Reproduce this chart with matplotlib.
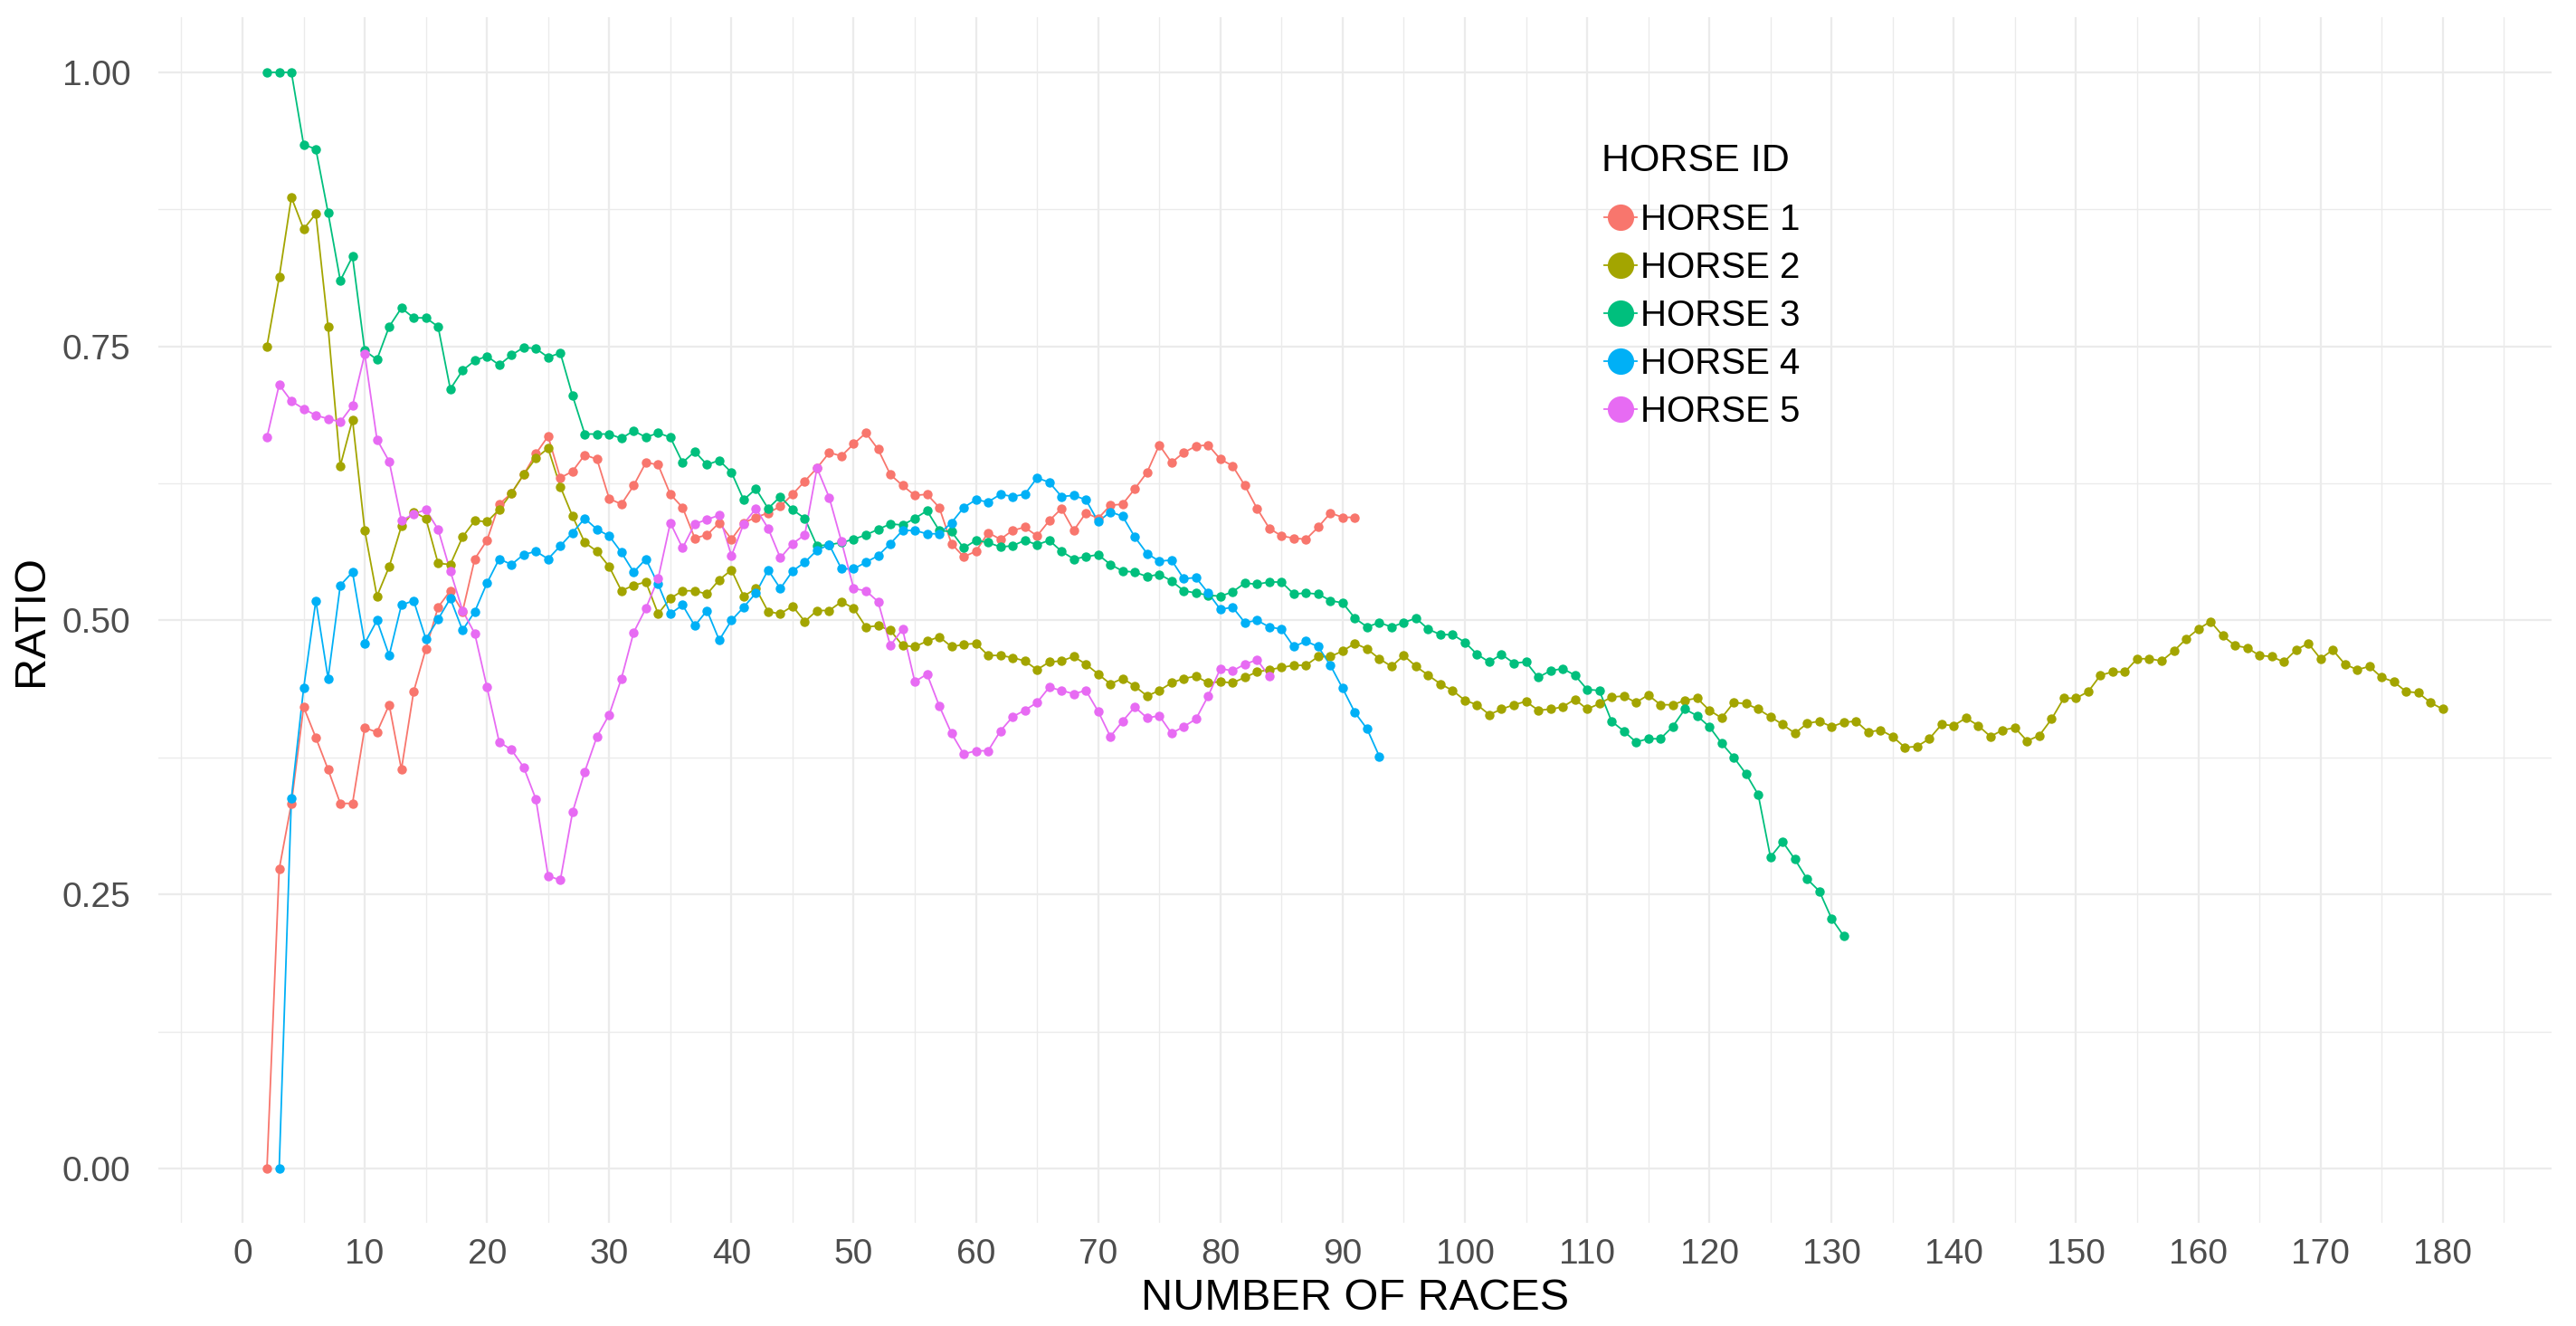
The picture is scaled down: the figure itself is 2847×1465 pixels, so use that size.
import numpy as np
import matplotlib
matplotlib.use("Agg")
import matplotlib.pyplot as plt
from matplotlib.lines import Line2D
from matplotlib.ticker import MultipleLocator

plt.rcParams['font.family'] = ['Liberation Sans', 'DejaVu Sans']

#--- values (ratio per number of races)
horse_names = ['HORSE 1', 'HORSE 2', 'HORSE 3', 'HORSE 4', 'HORSE 5']
horse_colors = ['#F8766D', '#A3A500', '#00BF7D', '#00B0F6', '#E76BF3']
first_race = [2, 2, 2, 3, 2]

horse1 = [0.0, 0.273, 0.333, 0.421, 0.393, 0.364, 0.333, 0.333, 0.402, 0.398,
          0.423, 0.364, 0.435, 0.474, 0.512, 0.527, 0.508, 0.556, 0.573, 0.606,
          0.616, 0.633, 0.652, 0.668, 0.630, 0.636, 0.651, 0.647, 0.611, 0.606,
          0.623, 0.644, 0.642, 0.615, 0.603, 0.575, 0.578, 0.589, 0.574, 0.589,
          0.594, 0.598, 0.604, 0.615, 0.627, 0.639, 0.653, 0.650, 0.661, 0.671,
          0.656, 0.633, 0.623, 0.614, 0.615, 0.603, 0.570, 0.558, 0.563, 0.580,
          0.574, 0.582, 0.585, 0.577, 0.591, 0.602, 0.582, 0.598, 0.593, 0.605,
          0.606, 0.620, 0.635, 0.660, 0.644, 0.653, 0.659, 0.660, 0.647, 0.641,
          0.623, 0.602, 0.584, 0.577, 0.575, 0.574, 0.585, 0.598, 0.594, 0.594]

horse2 = [0.750, 0.813, 0.886, 0.857, 0.871, 0.768, 0.641, 0.683, 0.582, 0.522,
          0.549, 0.586, 0.599, 0.593, 0.552, 0.551, 0.576, 0.591, 0.590, 0.601,
          0.616, 0.633, 0.648, 0.657, 0.622, 0.595, 0.571, 0.563, 0.549, 0.527,
          0.532, 0.535, 0.506, 0.520, 0.527, 0.527, 0.524, 0.537, 0.546, 0.522,
          0.529, 0.508, 0.506, 0.513, 0.499, 0.509, 0.509, 0.517, 0.511, 0.494,
          0.495, 0.491, 0.477, 0.476, 0.481, 0.485, 0.476, 0.478, 0.479, 0.468,
          0.468, 0.466, 0.463, 0.455, 0.462, 0.463, 0.467, 0.460, 0.451, 0.442,
          0.447, 0.440, 0.431, 0.436, 0.443, 0.447, 0.449, 0.443, 0.444, 0.443,
          0.448, 0.453, 0.455, 0.457, 0.459, 0.459, 0.467, 0.467, 0.472, 0.479,
          0.474, 0.465, 0.458, 0.468, 0.458, 0.450, 0.442, 0.436, 0.427, 0.423,
          0.414, 0.419, 0.423, 0.426, 0.418, 0.419, 0.421, 0.428, 0.419, 0.424,
          0.430, 0.431, 0.425, 0.432, 0.423, 0.423, 0.427, 0.429, 0.418, 0.411,
          0.425, 0.424, 0.419, 0.412, 0.405, 0.397, 0.406, 0.408, 0.403, 0.407,
          0.408, 0.398, 0.400, 0.394, 0.384, 0.385, 0.392, 0.405, 0.404, 0.411,
          0.404, 0.394, 0.400, 0.402, 0.390, 0.395, 0.410, 0.429, 0.429, 0.435,
          0.450, 0.453, 0.453, 0.465, 0.465, 0.463, 0.472, 0.483, 0.492, 0.499,
          0.486, 0.477, 0.475, 0.468, 0.467, 0.462, 0.473, 0.479, 0.465, 0.473,
          0.460, 0.455, 0.458, 0.448, 0.444, 0.435, 0.434, 0.425, 0.419]

horse3 = [1.0, 1.0, 1.0, 0.934, 0.930, 0.872, 0.810, 0.832, 0.746, 0.738,
          0.768, 0.785, 0.776, 0.776, 0.768, 0.711, 0.728, 0.737, 0.741, 0.733,
          0.742, 0.749, 0.748, 0.740, 0.744, 0.705, 0.670, 0.670, 0.670, 0.666,
          0.673, 0.667, 0.671, 0.667, 0.644, 0.654, 0.642, 0.646, 0.635, 0.610,
          0.620, 0.602, 0.613, 0.601, 0.593, 0.568, 0.569, 0.571, 0.574, 0.578,
          0.583, 0.588, 0.587, 0.593, 0.600, 0.582, 0.581, 0.566, 0.573, 0.571,
          0.567, 0.568, 0.573, 0.569, 0.573, 0.563, 0.556, 0.558, 0.560, 0.551,
          0.545, 0.544, 0.540, 0.542, 0.536, 0.527, 0.525, 0.523, 0.522, 0.526,
          0.534, 0.533, 0.535, 0.535, 0.524, 0.525, 0.524, 0.518, 0.516, 0.502,
          0.494, 0.498, 0.494, 0.498, 0.502, 0.492, 0.487, 0.487, 0.480, 0.469,
          0.462, 0.469, 0.461, 0.462, 0.448, 0.454, 0.456, 0.450, 0.437, 0.436,
          0.408, 0.399, 0.389, 0.392, 0.392, 0.403, 0.419, 0.413, 0.403, 0.388,
          0.375, 0.360, 0.341, 0.284, 0.298, 0.282, 0.264, 0.253, 0.228, 0.212]

horse4 = [0.0, 0.338, 0.438, 0.518, 0.447, 0.532, 0.544, 0.479, 0.500, 0.468,
          0.514, 0.518, 0.483, 0.501, 0.520, 0.491, 0.508, 0.534, 0.556, 0.551,
          0.560, 0.563, 0.556, 0.568, 0.580, 0.593, 0.583, 0.577, 0.562, 0.544,
          0.556, 0.533, 0.506, 0.514, 0.495, 0.509, 0.482, 0.500, 0.512, 0.525,
          0.546, 0.529, 0.545, 0.553, 0.564, 0.569, 0.547, 0.547, 0.553, 0.559,
          0.570, 0.582, 0.582, 0.579, 0.579, 0.589, 0.603, 0.610, 0.608, 0.615,
          0.613, 0.615, 0.630, 0.626, 0.613, 0.614, 0.610, 0.590, 0.599, 0.595,
          0.576, 0.561, 0.554, 0.555, 0.538, 0.539, 0.525, 0.510, 0.512, 0.498,
          0.500, 0.494, 0.492, 0.476, 0.481, 0.476, 0.459, 0.438, 0.416, 0.401,
          0.376]

horse5 = [0.667, 0.715, 0.700, 0.693, 0.687, 0.684, 0.681, 0.696, 0.743, 0.665,
          0.645, 0.591, 0.597, 0.601, 0.583, 0.545, 0.509, 0.488, 0.439, 0.389,
          0.382, 0.366, 0.337, 0.267, 0.263, 0.325, 0.362, 0.394, 0.414, 0.447,
          0.489, 0.511, 0.538, 0.589, 0.566, 0.588, 0.592, 0.596, 0.559, 0.588,
          0.602, 0.584, 0.557, 0.570, 0.578, 0.639, 0.612, 0.572, 0.529, 0.527,
          0.517, 0.477, 0.492, 0.444, 0.451, 0.422, 0.397, 0.378, 0.381, 0.381,
          0.399, 0.412, 0.418, 0.425, 0.439, 0.436, 0.433, 0.436, 0.417, 0.394,
          0.408, 0.421, 0.411, 0.413, 0.397, 0.403, 0.410, 0.431, 0.456, 0.454,
          0.460, 0.464, 0.449]

ratios = [horse1, horse2, horse3, horse4, horse5]

#--- Plot
fig = plt.figure(figsize=(28.47, 14.65), dpi=100)
ax = fig.add_axes([0.0614, 0.0775, 0.9291, 0.9093])

for name, col, start, vals in zip(horse_names, horse_colors, first_race, ratios):
    races = np.arange(start, start + len(vals))
    ax.plot(races, vals, color=col, linewidth=1.3, zorder=2)
for name, col, start, vals in zip(horse_names, horse_colors, first_race, ratios):
    races = np.arange(start, start + len(vals))
    ax.plot(races, vals, 'o', color=col, markersize=7.5, markeredgewidth=0, zorder=3)

ax.set_xlim(-6.9, 188.9)
ax.set_ylim(-0.05, 1.05)
ax.xaxis.set_major_locator(MultipleLocator(10))
ax.xaxis.set_minor_locator(MultipleLocator(5))
ax.yaxis.set_major_locator(MultipleLocator(0.25))
ax.yaxis.set_minor_locator(MultipleLocator(0.125))
ax.set_yticks([0, 0.25, 0.5, 0.75, 1.0])
ax.set_yticklabels(['0.00', '0.25', '0.50', '0.75', '1.00'])
ax.set_xticks(np.arange(0, 181, 10))

ax.grid(which='major', color='#EBEBEB', linewidth=1.6, zorder=0)
ax.grid(which='minor', color='#EBEBEB', linewidth=1.0, zorder=0)
ax.set_axisbelow(True)
for s in ax.spines.values():
    s.set_visible(False)
ax.tick_params(which='both', length=0)
ax.tick_params(axis='y', labelsize=28, labelcolor='#4D4D4D', pad=22)
ax.tick_params(axis='x', labelsize=28, labelcolor='#4D4D4D', pad=12)

ax.set_xlabel('NUMBER OF RACES', fontsize=35, labelpad=6)
ax.set_ylabel('RATIO', fontsize=35, labelpad=8)

#--- legend: title as separate text, keys below
fig.text(1770 / 2847, 1 - 178 / 1465, 'HORSE ID', fontsize=31, va='center', ha='left')
handles = [Line2D([0], [0], color=c, linewidth=1.3, marker='o', markersize=21,
                  markeredgewidth=0) for c in horse_colors]
leg = fig.legend(handles, horse_names, loc='upper left',
                 bbox_to_anchor=(1773 / 2847, 1 - 224 / 1465), frameon=False,
                 fontsize=29, handlelength=0.9, handletextpad=0.1,
                 labelspacing=0.37, borderpad=0, borderaxespad=0)

fig.savefig('out.png', dpi=100)
